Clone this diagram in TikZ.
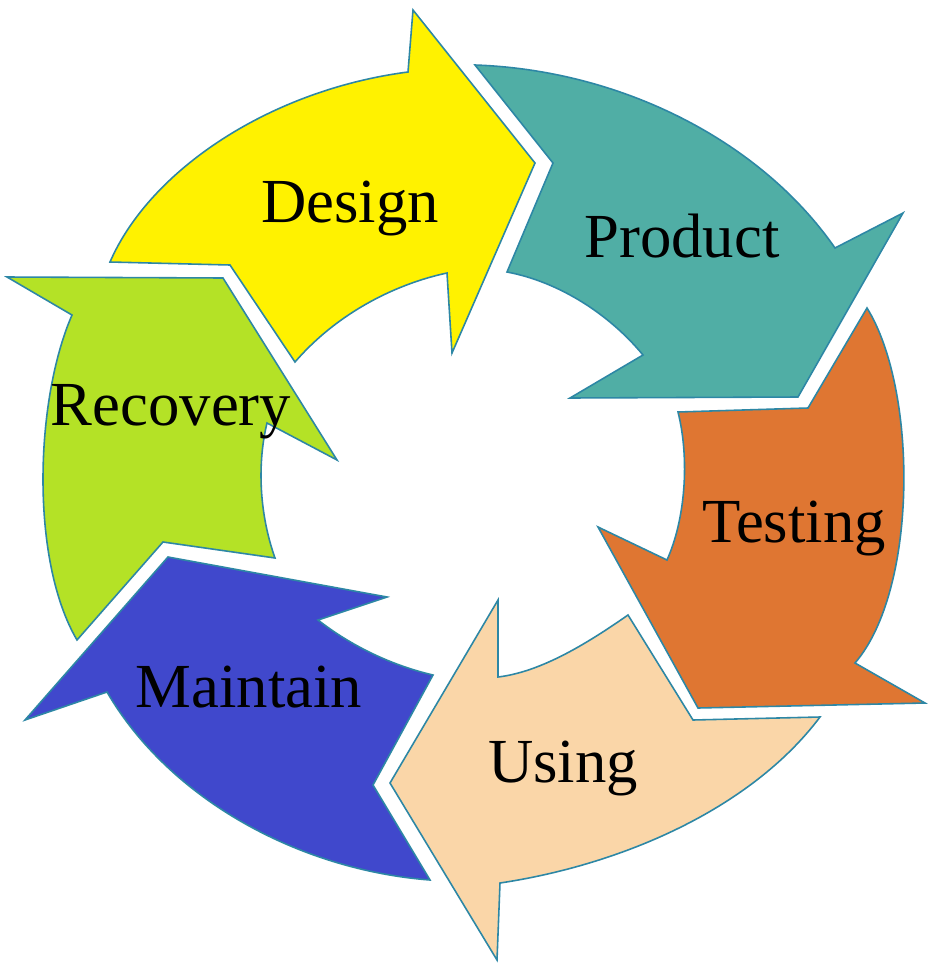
\documentclass[tikz,border=0pt]{standalone}
\usepackage{fontspec}
\setmainfont{Liberation Serif}
\definecolor{cyellow}{RGB}{255,242,0}
\definecolor{cteal}{RGB}{80,174,165}
\definecolor{corange}{RGB}{223,118,50}
\definecolor{cpeach}{RGB}{250,214,168}
\definecolor{cblue}{RGB}{64,72,204}
\definecolor{cgreen}{RGB}{180,226,38}
\definecolor{edgeblue}{RGB}{45,135,165}
\begin{document}
\begin{tikzpicture}[x=0.02cm,y=-0.02cm,
  arrowshape/.style={draw=edgeblue, line width=0.9pt, line join=miter},
  lbl/.style={anchor=base, inner sep=0pt, font=\fontsize{35.7}{40}\selectfont, text=black}]
\path[use as bounding box, fill=white] (0,0) rectangle (930,967);

% Design (yellow)
\path[arrowshape, fill=cyellow] (110,262) -- (230,265) -- (295,362)
  .. controls (340,310) and (400,283) .. (447,273)
  -- (452,353) -- (535,163) -- (413,10) -- (408,72)
  .. controls (270,90) and (150,170) .. (110,262) -- cycle;

% Product (teal)
\path[arrowshape, fill=cteal] (475,65) -- (553,163) -- (507,272)
  .. controls (560,282) and (610,315) .. (643,355)
  -- (570,398) -- (798,397) -- (903,213) -- (835,248)
  .. controls (760,140) and (620,70) .. (475,65) -- cycle;

% Testing (orange)
\path[arrowshape, fill=corange] (867,308) -- (808,408) -- (678,412)
  .. controls (690,460) and (685,520) .. (667,560)
  -- (598,527) -- (698,708) -- (925,703) -- (855,663)
  .. controls (918,590) and (918,390) .. (867,308) -- cycle;

% Using (peach)
\path[arrowshape, fill=cpeach] (820,717) -- (693,720) -- (628,615)
  .. controls (585,645) and (540,672) .. (498,677)
  -- (498,600) -- (390,783) -- (497,960) -- (500,883)
  .. controls (620,865) and (750,810) .. (820,717) -- cycle;

% Maintain (blue)
\path[arrowshape, fill=cblue] (430,880) -- (373,785) -- (433,675)
  .. controls (390,665) and (350,645) .. (318,620)
  -- (387,597) -- (168,557) -- (25,720) -- (107,692)
  .. controls (170,800) and (300,870) .. (430,880) -- cycle;

% Recovery (green)
\path[arrowshape, fill=cgreen] (77,640) -- (163,542) -- (275,558)
  .. controls (258,510) and (258,460) .. (267,423)
  -- (337,460) -- (223,278) -- (7,277) -- (72,315)
  .. controls (35,400) and (30,560) .. (77,640) -- cycle;

\node[lbl] (design) at (350,222) {Design};
\node[lbl] (product) at (682,257) {Product};
\node[lbl] (testing) at (794,542) {Testing};
\node[lbl] (using) at (563,782) {Using};
\node[lbl] (maintain) at (249,707) {Maintain};
\node[lbl] (recovery) at (171,425) {Recovery};
\end{tikzpicture}
\end{document}
